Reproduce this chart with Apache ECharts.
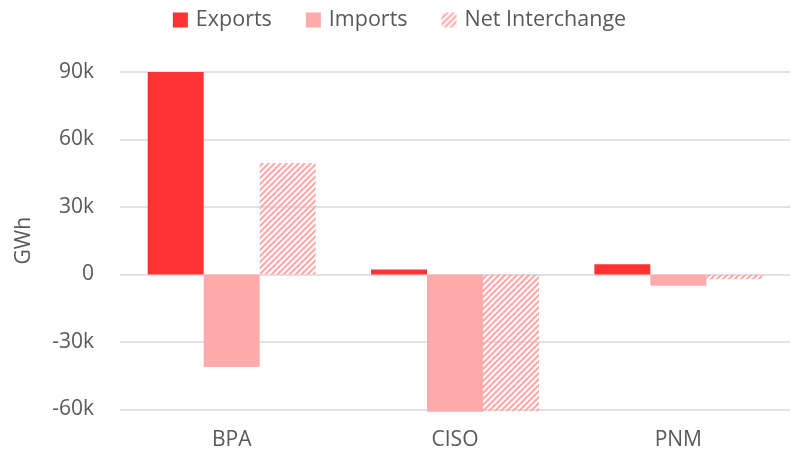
<!DOCTYPE html>
<html>
<head>
<meta charset="utf-8">
<script src="https://cdn.jsdelivr.net/npm/echarts@6/dist/echarts.min.js"></script>
<style>
  html, body { margin: 0; padding: 0; background: #fff; }
  #chart { width: 799px; height: 458px; }
</style>
</head>
<body>
<div id="chart"></div>
<script>
  // data (GWh)
  const categories = ['BPA', 'CISO', 'PNM'];
  const exportsData = [90000, 2200, 4600];
  const importsData = [-41100, -61000, -5000];
  const netData = [49600, -60800, -2100];
  const seriesNames = ['Exports', 'Imports', 'Net Interchange'];

  // diagonal hatch for net interchange
  function makeHatch() {
    const c = document.createElement('canvas');
    c.width = 6; c.height = 6;
    const ctx = c.getContext('2d');
    ctx.strokeStyle = '#ffabab';
    ctx.lineWidth = 2.2;
    ctx.beginPath();
    ctx.moveTo(-1, 7); ctx.lineTo(7, -1);
    ctx.moveTo(-4, 4); ctx.lineTo(4, -4);
    ctx.moveTo(2, 10); ctx.lineTo(10, 2);
    ctx.stroke();
    return c;
  }
  const hatch = { image: makeHatch(), repeat: 'repeat' };

  const chart = echarts.init(document.getElementById('chart'));
  const font = '"Open Sans", "Noto Sans", sans-serif';
  const txt = '#595959';

  chart.setOption({
    animation: false,
    textStyle: { fontFamily: font },
    legend: {
      top: 4,
      left: 'center',
      icon: 'rect',
      itemWidth: 15,
      itemHeight: 15,
      itemGap: 34,
      textStyle: { fontSize: 21.5, color: txt, fontFamily: font, padding: [0, 0, 0, 3] },
      data: seriesNames
    },
    grid: { left: 120, right: 9, top: 72, bottom: 48.5 },
    xAxis: {
      type: 'category',
      data: categories,
      axisLine: { show: false },
      axisTick: { show: false },
      axisLabel: { fontSize: 21, color: txt, margin: 20, fontFamily: font }
    },
    yAxis: {
      type: 'value',
      min: -60000,
      max: 90000,
      interval: 30000,
      name: 'GWh',
      nameLocation: 'middle',
      nameGap: 85,
      nameTextStyle: { fontSize: 21, color: txt, fontFamily: font },
      axisLabel: {
        fontSize: 21,
        color: txt,
        margin: 26,
        fontFamily: font,
        formatter: v => v === 0 ? '0' : (v / 1000) + 'k'
      },
      splitLine: { lineStyle: { color: '#d9d9d9', width: 1.5 } }
    },
    series: [
      {
        name: seriesNames[0], type: 'bar', data: exportsData,
        barWidth: 56, barGap: '0%', clip: false,
        itemStyle: { color: '#ff3333' }
      },
      {
        name: seriesNames[1], type: 'bar', data: importsData,
        barWidth: 56, barGap: '0%', clip: false,
        itemStyle: { color: '#ffabab' }
      },
      {
        name: seriesNames[2], type: 'bar', data: netData,
        barWidth: 56, barGap: '0%', clip: false,
        itemStyle: { color: hatch }
      }
    ]
  });
</script>
</body>
</html>
